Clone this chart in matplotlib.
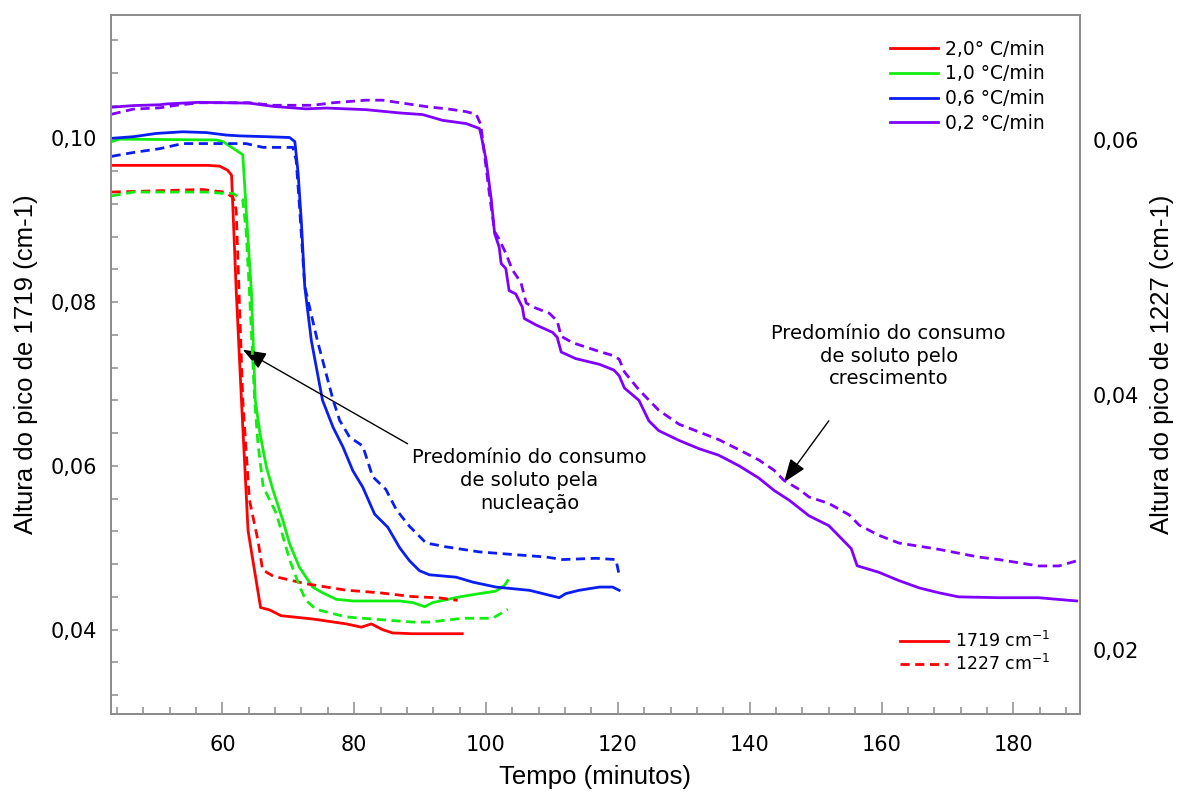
import numpy as np
import matplotlib
matplotlib.use("Agg")
import matplotlib.pyplot as plt
from matplotlib.ticker import MultipleLocator, FuncFormatter
from matplotlib.lines import Line2D

plt.rcParams['font.family'] = ['DejaVu Sans']
title_font = ['Liberation Sans', 'DejaVu Sans']

# 2,0 C/min
red_t = [43.2, 57.8, 59.6, 60.8, 61.4, 62.1, 62.9, 63.9, 64.4, 65.8, 67.2, 68.9, 73.7, 78.8, 81.1, 82.6, 84.3, 85.8, 88.8, 93.9, 96.4]
red_1719 = [0.0967, 0.0967, 0.0966, 0.0961, 0.0955, 0.0815, 0.0680, 0.0521, 0.0496, 0.0427, 0.0424, 0.0417, 0.0413, 0.0407, 0.0403, 0.0407, 0.0400, 0.0396, 0.0395, 0.0395, 0.0395]
red_t2 = [43.2, 57.0, 60.3, 61.6, 62.1, 63.1, 64.1, 65.4, 66.1, 67.7, 72.7, 78.8, 83.8, 88.8, 92.9, 95.7]
red_1227 = [0.0559, 0.0561, 0.0559, 0.0555, 0.0545, 0.0396, 0.0318, 0.0286, 0.0263, 0.0258, 0.0252, 0.0247, 0.0245, 0.0242, 0.0241, 0.0239]

# 1,0 C/min
green_t = [43.2, 44.4, 59.1, 60.1, 61.6, 63.1, 63.9, 64.4, 65.0, 65.7, 66.7, 67.7, 69.2, 70.2, 71.7, 73.7, 75.2, 77.3, 79.8, 86.9, 88.9, 90.7, 91.9, 96.0, 99.0, 101.5, 102.8, 103.3]
green_1719 = [0.0996, 0.0999, 0.0998, 0.0996, 0.0988, 0.0980, 0.0876, 0.0814, 0.0680, 0.0640, 0.0598, 0.0570, 0.0533, 0.0505, 0.0476, 0.0452, 0.0445, 0.0437, 0.0435, 0.0435, 0.0433, 0.0428, 0.0433, 0.0440, 0.0444, 0.0447, 0.0454, 0.0460]
green_t2 = [43.2, 46.5, 57.6, 60.1, 61.6, 63.1, 63.6, 64.1, 64.9, 65.4, 66.2, 68.2, 70.2, 71.7, 72.7, 74.2, 78.8, 83.8, 88.9, 91.4, 96.5, 101.0, 103.3]
green_1227 = [0.0556, 0.0559, 0.0559, 0.0558, 0.0558, 0.0553, 0.0529, 0.0482, 0.0396, 0.0362, 0.0328, 0.0307, 0.0271, 0.0250, 0.0239, 0.0232, 0.0226, 0.0224, 0.0222, 0.0222, 0.0225, 0.0225, 0.0232]

# 0,6 C/min
blue_t = [43.2, 46.5, 50.0, 54.0, 57.6, 60.6, 62.6, 66.7, 70.2, 71.0, 71.5, 72.0, 72.5, 73.5, 75.2, 76.8, 78.3, 79.8, 81.3, 83.1, 85.1, 86.9, 88.4, 89.9, 91.4, 95.5, 98.0, 101.5, 106.6, 109.1, 111.1, 112.1, 114.1, 117.2, 119.2, 120.2]
blue_1719 = [0.1000, 0.1002, 0.1006, 0.1008, 0.1007, 0.1004, 0.1003, 0.1002, 0.1001, 0.0996, 0.0957, 0.0896, 0.0819, 0.0753, 0.0680, 0.0647, 0.0623, 0.0594, 0.0574, 0.0541, 0.0525, 0.0500, 0.0484, 0.0472, 0.0467, 0.0464, 0.0458, 0.0452, 0.0448, 0.0443, 0.0439, 0.0444, 0.0448, 0.0452, 0.0452, 0.0448]
blue_t2 = [43.2, 46.5, 50.5, 54.0, 56.6, 63.6, 66.2, 70.7, 71.2, 71.7, 72.5, 74.4, 76.8, 77.8, 79.3, 81.3, 82.8, 84.8, 86.4, 88.4, 90.9, 93.9, 99.0, 104.0, 109.1, 111.6, 116.7, 119.7, 120.2]
blue_1227 = [0.0587, 0.0590, 0.0593, 0.0597, 0.0597, 0.0597, 0.0594, 0.0594, 0.0584, 0.0548, 0.0485, 0.0443, 0.0396, 0.0380, 0.0367, 0.0360, 0.0336, 0.0326, 0.0310, 0.0297, 0.0284, 0.0281, 0.0277, 0.0275, 0.0273, 0.0271, 0.0272, 0.0271, 0.0259]

# 0,2 C/min
purple_t = [43.2, 46.5, 50.5, 51.5, 56.6, 64.1, 67.7, 72.7, 75.8, 81.8, 86.9, 90.4, 93.4, 97.0, 99.0, 99.2, 100.0, 100.8, 101.3, 102.0, 102.3, 103.0, 103.5, 104.5, 105.5, 105.8, 107.6, 110.1, 110.8, 111.4, 113.6, 117.2, 119.4, 120.2, 121.0, 123.2, 124.7, 126.2, 129.3, 132.3, 135.3, 138.4, 141.4, 143.7, 146.0, 149.0, 152.0, 155.4, 156.3, 159.6, 162.6, 165.7, 168.7, 171.7, 177.8, 183.8, 189.6]
purple_1719 = [0.1038, 0.1040, 0.1041, 0.1042, 0.1044, 0.1043, 0.1039, 0.1036, 0.1037, 0.1035, 0.1031, 0.1029, 0.1022, 0.1018, 0.1012, 0.1006, 0.0974, 0.0925, 0.0884, 0.0867, 0.0847, 0.0841, 0.0814, 0.0810, 0.0794, 0.0780, 0.0772, 0.0763, 0.0757, 0.0739, 0.0731, 0.0724, 0.0717, 0.0710, 0.0695, 0.0680, 0.0655, 0.0643, 0.0631, 0.0621, 0.0613, 0.0600, 0.0585, 0.0570, 0.0558, 0.0539, 0.0527, 0.0499, 0.0478, 0.0470, 0.0460, 0.0451, 0.0445, 0.0440, 0.0439, 0.0439, 0.0435]
purple_t2 = [43.2, 46.5, 50.5, 53.0, 56.6, 64.1, 67.7, 73.7, 76.8, 81.8, 84.3, 86.9, 90.9, 94.4, 97.0, 98.5, 99.2, 100.5, 101.3, 102.0, 103.0, 104.0, 105.3, 106.1, 107.1, 109.6, 110.8, 111.4, 113.1, 117.2, 119.2, 120.2, 121.0, 123.2, 126.2, 129.3, 132.3, 135.3, 138.4, 141.4, 143.7, 145.2, 147.5, 149.0, 152.0, 155.1, 156.6, 159.6, 162.6, 168.7, 174.7, 177.8, 183.8, 186.9, 189.6]
purple_1227 = [0.0620, 0.0624, 0.0625, 0.0627, 0.0629, 0.0629, 0.0627, 0.0627, 0.0629, 0.0631, 0.0631, 0.0629, 0.0626, 0.0624, 0.0622, 0.0620, 0.0612, 0.0558, 0.0528, 0.0522, 0.0511, 0.0498, 0.0488, 0.0472, 0.0469, 0.0464, 0.0458, 0.0446, 0.0441, 0.0434, 0.0431, 0.0428, 0.0418, 0.0404, 0.0388, 0.0377, 0.0371, 0.0365, 0.0357, 0.0349, 0.0341, 0.0333, 0.0326, 0.0320, 0.0315, 0.0306, 0.0298, 0.0290, 0.0284, 0.0279, 0.0273, 0.0271, 0.0266, 0.0266, 0.0270]

rates = ['2,0° C/min', '1,0 °C/min', '0,6 °C/min', '0,2 °C/min']
colors = ['#ff0000', '#10ee10', '#0a1ef0', '#8000ff']

solid = [(red_t, red_1719), (green_t, green_1719), (blue_t, blue_1719), (purple_t, purple_1719)]
dashed = [(red_t2, red_1227), (green_t2, green_1227), (blue_t2, blue_1227), (purple_t2, purple_1227)]

fig = plt.figure(figsize=(11.79, 7.94), dpi=100)
ax = fig.add_axes([0.0941, 0.1008, 0.8219, 0.8807])
ax2 = ax.twinx()

lw = 2.0
dash = (3.3, 2.0)
handles = []
for (t, y), c in zip(solid, colors):
    h, = ax.plot(t, y, color=c, lw=lw, solid_joinstyle='round')
    handles.append(h)
for (t, y), c in zip(dashed, colors):
    ax2.plot(t, y, color=c, lw=lw, dashes=dash)

ax.set_xlim(43.1, 190.1)
ax.set_ylim(0.0297, 0.1151)
ax2.set_ylim(0.0150, 0.0698)

comma = FuncFormatter(lambda v, p: f'{v:.2f}'.replace('.', ','))
ax.xaxis.set_major_locator(MultipleLocator(20))
ax.xaxis.set_minor_locator(MultipleLocator(4))
ax.yaxis.set_major_locator(MultipleLocator(0.02))
ax.yaxis.set_minor_locator(MultipleLocator(0.004))
ax.yaxis.set_major_formatter(comma)
ax2.yaxis.set_major_locator(MultipleLocator(0.02))
ax2.yaxis.set_major_formatter(comma)

spine_col = '#8c8c8c'
for a in (ax, ax2):
    for s in a.spines.values():
        s.set_color(spine_col)
        s.set_linewidth(1.3)

ax.tick_params(axis='x', which='major', direction='in', length=9, width=1.1, color=spine_col, labelsize=15, pad=15)
ax.tick_params(axis='x', which='minor', direction='in', length=5, width=1.1, color=spine_col)
ax.tick_params(axis='y', which='major', direction='in', length=5, width=1.1, color=spine_col, labelsize=15, pad=10)
ax.tick_params(axis='y', which='minor', direction='in', length=5, width=1.1, color=spine_col)
ax2.tick_params(axis='y', which='both', length=0, labelsize=15, pad=9)

ax.set_xlabel('Tempo (minutos)', fontsize=18.5, family=title_font, labelpad=7)
ax.set_ylabel('Altura do pico de 1719 (cm-1)', fontsize=18.5, family=title_font, labelpad=9)
ax2.set_ylabel('Altura do pico de 1227 (cm-1)', fontsize=18.5, family=title_font, labelpad=8)

# annotations
arrow = dict(arrowstyle='-|>,head_length=0.8,head_width=0.3', color='black', lw=1.0, mutation_scale=18, shrinkA=0, shrinkB=0)
ax.annotate('', xy=(63.1, 0.0742), xytext=(88.1, 0.0627), arrowprops=arrow)
ax.text(106.6, 0.0582, 'Predomínio do consumo\nde soluto pela\nnucleação', ha='center', va='center', fontsize=14, linespacing=1.25)
ax.annotate('', xy=(145.2, 0.0580), xytext=(152.0, 0.0655), arrowprops=arrow)
ax.text(161.1, 0.0734, 'Predomínio do consumo\nde soluto pelo\ncrescimento', ha='center', va='center', fontsize=14, linespacing=1.25)

leg1 = ax2.legend(handles, rates, loc='upper right', bbox_to_anchor=(0.964, 0.964), frameon=False,
                  fontsize=13.5, handlelength=2.55, handletextpad=0.4, labelspacing=0.3, borderaxespad=0, borderpad=0)
ax2.add_artist(leg1)
h_solid = Line2D([], [], color=colors[0], lw=lw)
h_dash = Line2D([], [], color=colors[0], lw=lw, dashes=dash)
ax2.legend([h_solid, h_dash], ['1719 cm$^{-1}$', '1227 cm$^{-1}$'], loc='lower right',
           bbox_to_anchor=(0.969, 0.0566), frameon=False, fontsize=12.5, handlelength=2.76,
           handletextpad=0.4, labelspacing=0.17, borderaxespad=0, borderpad=0)

fig.savefig('out.png', dpi=100)
